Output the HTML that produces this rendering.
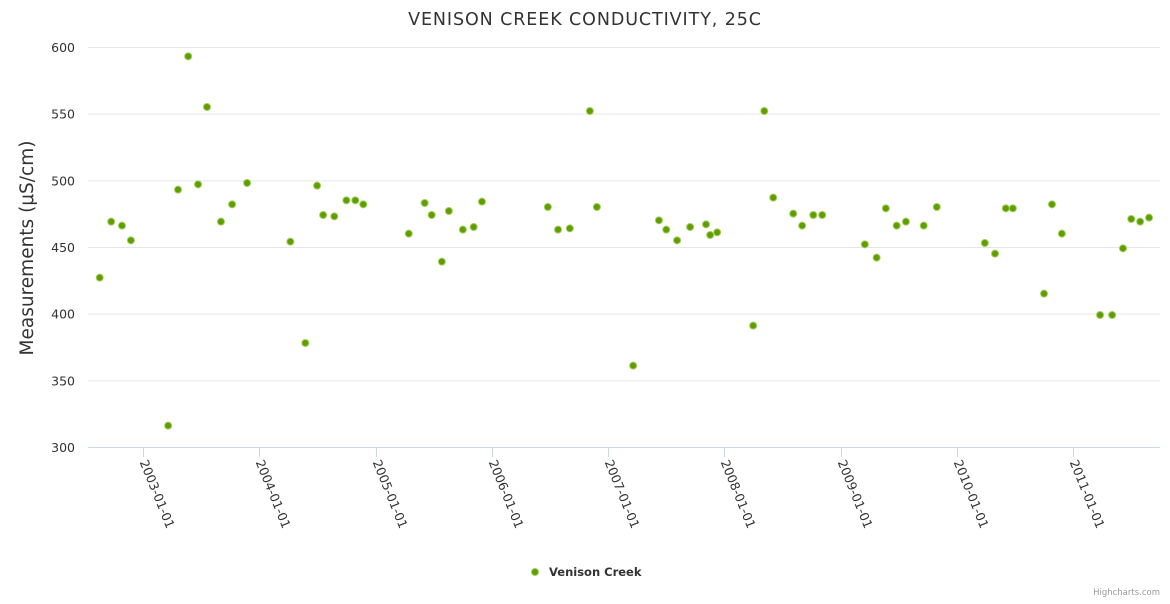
<!DOCTYPE html>
<html><head><meta charset="utf-8"><style>
body{margin:0;background:#fff;font-family:"DejaVu Sans",sans-serif}
</style></head><body>
<svg id="chart" width="1170" height="600" xmlns="http://www.w3.org/2000/svg" style="font-family:'DejaVu Sans',sans-serif">
<text x="585" y="25" text-anchor="middle" font-size="17.5" letter-spacing="0.9" fill="#333">VENISON CREEK CONDUCTIVITY, 25C</text>
<text transform="translate(33,248) rotate(-90)" text-anchor="middle" font-size="18.5" fill="#333">Measurements (μS/cm)</text>
<g id="grid"></g><g id="xaxis"></g><g id="pts"></g>
<g>
<circle cx="535" cy="572" r="3.5" fill="#5d9f00" stroke="#a6cc5a" stroke-width="1"/>
<text x="549" y="576" font-size="11.5" font-weight="bold" fill="#333">Venison Creek</text></g>
<text x="1160" y="595" text-anchor="end" font-size="8.5" fill="#999">Highcharts.com</text>
</svg>
<script>
const dates=["2002-08-18","2002-09-23","2002-10-27","2002-11-24","2003-03-21","2003-04-21","2003-05-23","2003-06-23","2003-07-21","2003-09-03","2003-10-08","2003-11-24","2004-04-08","2004-05-25","2004-07-01","2004-07-20","2004-08-24","2004-10-01","2004-10-29","2004-11-23","2005-04-15","2005-06-04","2005-06-26","2005-07-28","2005-08-19","2005-10-02","2005-11-05","2005-12-01","2006-06-26","2006-07-28","2006-09-03","2006-11-05","2006-11-27","2007-03-21","2007-06-10","2007-07-03","2007-08-06","2007-09-16","2007-11-05","2007-11-18","2007-12-10","2008-04-01","2008-05-06","2008-06-03","2008-08-05","2008-09-02","2008-10-07","2008-11-04","2009-03-18","2009-04-24","2009-05-23","2009-06-26","2009-07-25","2009-09-19","2009-10-30","2010-03-30","2010-05-01","2010-06-04","2010-06-26","2010-10-02","2010-10-27","2010-11-27","2011-03-27","2011-05-04","2011-06-07","2011-07-03","2011-07-31","2011-08-28"];
const values=[427,469,466,455,316,493,593,497,555,469,482,498,454,378,496,474,473,485,485,482,460,483,474,439,477,463,465,484,480,463,464,552,480,361,470,463,455,465,467,459,461,391,552,487,475,466,474,474,452,442,479,466,469,466,480,453,445,479,479,415,482,460,399,399,449,471,469,472];
const yTicks=[300,350,400,450,500,550,600];
const xTicks=["2003-01-01","2004-01-01","2005-01-01","2006-01-01","2007-01-01","2008-01-01","2009-01-01","2010-01-01","2011-01-01"];
const NS="http://www.w3.org/2000/svg";
const t0=Date.parse("2003-01-01"),t1=Date.parse("2011-01-01");
const x=d=>143+(Date.parse(d)-t0)/(t1-t0)*(1073-143);
const y=v=>447-(v-300)*400/300;
function mk(tag,attrs,parent){const e=document.createElementNS(NS,tag);for(const k in attrs)e.setAttribute(k,attrs[k]);parent.appendChild(e);return e;}
const grid=document.getElementById('grid'),xa=document.getElementById('xaxis'),pts=document.getElementById('pts');
yTicks.forEach(v=>{
 const l=mk('line',{x1:88,x2:1160,y1:y(v)+0.5,y2:y(v)+0.5,stroke:v===300?'#ccd6eb':'#e6e6e6'},grid);
 
 
 const t=mk('text',{x:75,y:y(v)+5,'text-anchor':'end','font-size':12.5,fill:'#333'},grid);
 t.textContent=v;
 
 
});
xTicks.forEach(d=>{
 const px=Math.round(x(d))+0.5;
 const l=mk('line',{x1:px,x2:px,y1:447,y2:457,stroke:'#ccd6eb'},xa);
 
 
 const t=mk('text',{transform:`translate(${px-4},462) rotate(68)`,'font-size':12.5,fill:'#333'},xa);
 t.textContent=d;
 
 
});
dates.forEach((d,i)=>{
 const c=mk('circle',{cx:x(d),cy:y(values[i]),r:3.5,fill:'#5d9f00',stroke:'#a6cc5a','stroke-width':1},pts);
 
 
});
</script>
</body></html>
